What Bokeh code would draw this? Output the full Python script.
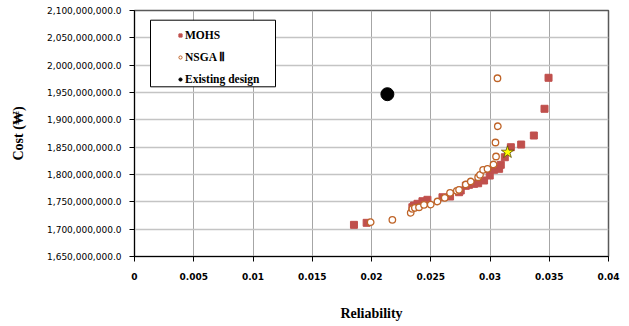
from bokeh.plotting import figure
from bokeh.models import (ColumnDataSource, FixedTicker, NumeralTickFormatter,
                          Legend, LegendItem, BoxAnnotation)
from bokeh.embed import file_html
from bokeh.resources import INLINE

# ---- data ----
mohs_rel = [0.01852, 0.01959, 0.02345, 0.02359, 0.02388, 0.02430, 0.02472,
            0.02599, 0.02663, 0.02739, 0.02753, 0.02796, 0.02823, 0.02866,
            0.02900, 0.02950, 0.02998, 0.03035, 0.03077, 0.03091, 0.03125,
            0.03176, 0.03263, 0.03370, 0.03460, 0.03494]
mohs_cost = [1707.9e6, 1711.6e6, 1740.1e6, 1743.3e6, 1746.4e6, 1751.1e6, 1753.7e6,
             1758.4e6, 1759.7e6, 1767.6e6, 1770.7e6, 1779.3e6, 1781.1e6, 1782.9e6,
             1784.0e6, 1789.0e6, 1798.1e6, 1808.6e6, 1810.4e6, 1817.7e6, 1831.6e6,
             1849.9e6, 1854.8e6, 1871.3e6, 1920.2e6, 1976.9e6]

nsga_rel = [0.01993, 0.02176, 0.02331, 0.02345, 0.02366, 0.02401, 0.02443,
            0.02500, 0.02557, 0.02618, 0.02663, 0.02720, 0.02739, 0.02796,
            0.02838, 0.02900, 0.02916, 0.02942, 0.02979, 0.03030, 0.03051,
            0.03046, 0.03066, 0.03063]
nsga_cost = [1712.7e6, 1717.1e6, 1729.9e6, 1737.2e6, 1739.0e6, 1740.1e6, 1744.5e6,
             1745.0e6, 1750.6e6, 1757.3e6, 1766.5e6, 1770.1e6, 1771.9e6, 1781.7e6,
             1787.2e6, 1795.0e6, 1799.4e6, 1808.6e6, 1810.4e6, 1818.3e6, 1832.9e6,
             1858.5e6, 1888.3e6, 1976.1e6]

existing_rel = [0.02134]
existing_cost = [1946.9e6]

selected_rel = [0.03148]
selected_cost = [1840.8e6]

x_ticks = [0, 0.005, 0.01, 0.015, 0.02, 0.025, 0.03, 0.035, 0.04]
x_tick_labels = ["0", "0.005", "0.01", "0.015", "0.02", "0.025", "0.03", "0.035", "0.04"]
y_ticks = [1650000000, 1700000000, 1750000000, 1800000000, 1850000000,
           1900000000, 1950000000, 2000000000, 2050000000, 2100000000]

series_labels = ["MOHS", "NSGA Ⅱ", "Existing design"]

# ---- figure ----
p = figure(width=629, height=326, x_range=(0, 0.04), y_range=(1.65e9, 2.1e9),
           output_backend="svg", toolbar_location=None,
           min_border_left=134, min_border_right=21, min_border_top=10,
           min_border_bottom=70, background_fill_color="white",
           border_fill_color="white")

p.outline_line_color = "#595959"
p.outline_line_width = 1.5

p.xaxis.ticker = FixedTicker(ticks=x_ticks)
p.xaxis.major_label_overrides = {t: l for t, l in zip(x_ticks, x_tick_labels)}
p.yaxis.ticker = FixedTicker(ticks=y_ticks)
p.yaxis.formatter = NumeralTickFormatter(format="0,0.0")

for ax in (p.xaxis[0], p.yaxis[0]):
    ax.axis_line_color = "black"
    ax.axis_line_width = 1
    ax.major_tick_line_color = "black"
    ax.major_tick_out = 5
    ax.major_tick_in = 0
    ax.minor_tick_line_color = None
    ax.major_label_text_font = "DejaVu Sans"
    ax.major_label_text_font_size = "9px"
    ax.major_label_text_color = "black"
    ax.axis_label_text_font = "Liberation Serif"
    ax.axis_label_text_font_style = "bold"
    ax.axis_label_text_font_size = "14px"
    ax.axis_label_text_color = "black"

p.xaxis.major_label_text_font_style = "bold"
p.xaxis.major_label_standoff = 11
p.yaxis.major_label_standoff = 8
p.xaxis.axis_label = "Reliability"
p.yaxis.axis_label = "Cost (₩)"
p.xaxis.axis_label_standoff = 23
p.yaxis.axis_label_standoff = 18

p.xgrid.grid_line_color = "#a6a6a6"
p.xgrid.grid_line_width = 1
p.ygrid.grid_line_color = "#c4c4c4"
p.ygrid.grid_line_width = 1.5

# ---- data glyphs ----
p.scatter(mohs_rel, mohs_cost, marker="square", size=7,
          fill_color="#C0504D", line_color="#C0504D")
p.scatter(nsga_rel, nsga_cost, marker="circle", size=6.5,
          fill_color="white", line_color="#BF6428", line_width=1.3)
p.scatter(existing_rel, existing_cost, marker="circle", size=13,
          fill_color="black", line_color="black")
p.scatter(selected_rel, selected_cost, marker="star", size=13,
          fill_color="#FFFF00", line_color="#5a4a00", line_width=0.8)

# ---- legend (legend-only glyphs; their single point is NaN so nothing is drawn) ----
nan = float("nan")
blank = ColumnDataSource(data=dict(x=[nan], y=[nan]))
r1 = p.scatter("x", "y", source=blank, marker="square", size=6,
               fill_color="#C0504D", line_color="#C0504D")
r2 = p.scatter("x", "y", source=blank, marker="circle", size=5.5,
               fill_color="white", line_color="#BF6428", line_width=1)
r3 = p.scatter("x", "y", source=blank, marker="circle", size=5.5,
               fill_color="black", line_color="black")

box = BoxAnnotation(left=16, right=141, top=236.3, bottom=169.7,
                    left_units="screen", right_units="screen",
                    top_units="screen", bottom_units="screen",
                    fill_color="white", fill_alpha=1,
                    line_color="black", line_width=1, line_alpha=1)
p.add_layout(box)

legend = Legend(items=[LegendItem(label=series_labels[0], renderers=[r1]),
                       LegendItem(label=series_labels[1], renderers=[r2]),
                       LegendItem(label=series_labels[2], renderers=[r3])],
                location=(42, 170), padding=4, spacing=8, glyph_width=8,
                glyph_height=8, label_height=14, label_standoff=1, margin=0,
                border_line_color=None, background_fill_alpha=0,
                label_text_font="Liberation Serif", label_text_font_style="bold",
                label_text_font_size="11.5px", label_text_color="black")
p.add_layout(legend)

open("out.html", "w").write(file_html(p, INLINE))
